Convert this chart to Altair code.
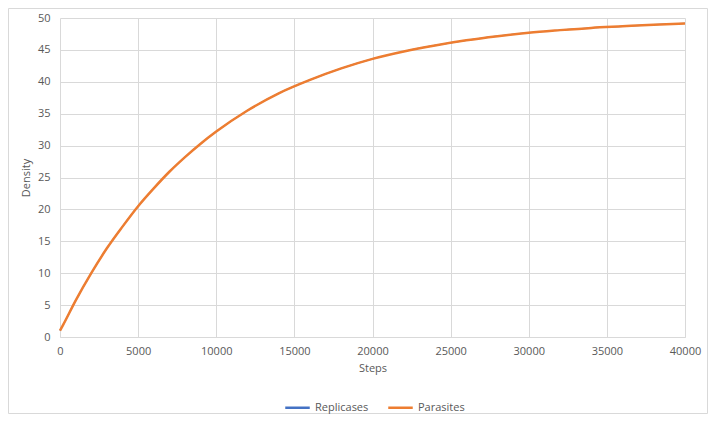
import altair as alt
import pandas as pd

steps = [0, 200, 1000, 2000, 3000, 4000, 5000, 6000, 7000, 8000, 9000, 10000,
         12000, 14000, 16000, 18000, 20000, 22000, 24000, 26000, 28000, 30000,
         32000, 34000, 36000, 38000, 40000]
parasites = [1.0, 1.9, 5.7, 10.0, 13.9, 17.3, 20.5, 23.3, 25.9, 28.2, 30.3, 32.2,
             35.5, 38.2, 40.3, 42.1, 43.6, 44.75, 45.7, 46.5, 47.15, 47.7,
             48.1, 48.45, 48.7, 48.95, 49.15]
replicases = [1.0, 1.9, 5.7, 10.0, 13.9, 17.3, 20.5, 23.3, 25.9, 28.2, 30.3, 32.2,
              35.5, 38.2, 40.3, 42.1, 43.6, 44.75, 45.7, 46.5, 47.15, 47.7,
              48.1, 48.45, 48.7, 48.95, 49.15]
series_names = ["Replicases", "Parasites"]
series_colors = ["#4472C4", "#ED7D31"]

rows = []
for i, s in enumerate(steps):
    rows.append({"Steps": s, "Density": replicases[i], "Series": "Replicases", "order": 0, "w": 1.2})
for i, s in enumerate(steps):
    rows.append({"Steps": s, "Density": parasites[i], "Series": "Parasites", "order": 1, "w": 2.5})
df = pd.DataFrame(rows)

FONT = "Open Sans"
W, H = 625, 319

lines = alt.Chart(df).mark_line(interpolate="monotone").encode(
    x=alt.X("Steps:Q", scale=alt.Scale(domain=[0, 40000], nice=False),
            axis=alt.Axis(values=list(range(0, 40001, 5000)), title="Steps", format="d",
                          grid=True, gridColor="#d9d9d9", ticks=False,
                          domainColor="#d9d9d9", labelPadding=8,
                          titlePadding=6, labelFlush=False)),
    y=alt.Y("Density:Q", scale=alt.Scale(domain=[0, 50], nice=False),
            axis=alt.Axis(values=list(range(0, 51, 5)), title="Density", format="d",
                          grid=True, gridColor="#d9d9d9", ticks=False,
                          domain=False, labelPadding=10, titlePadding=6)),
    color=alt.Color("Series:N", scale=alt.Scale(domain=series_names, range=series_colors),
                    legend=alt.Legend(title=None, orient="none", direction="horizontal",
                                      legendX=224, legendY=376, symbolType="stroke",
                                      symbolSize=600, symbolStrokeWidth=2.5,
                                      columnPadding=14, labelFontSize=11,
                                      labelColor="#595959", labelFont=FONT)),
    strokeWidth=alt.StrokeWidth("w:Q", scale=None, legend=None),
    order=alt.Order("order:Q"),
    detail="Series:N",
)

frame = alt.Chart(pd.DataFrame({"a": [0]})).mark_rect(
    filled=False, stroke="#d9d9d9", strokeWidth=1
).encode(
    x=alt.value(-51.5), x2=alt.value(W + 22.5),
    y=alt.value(-9.5), y2=alt.value(H + 76.5),
)

chart = alt.layer(frame, lines).properties(
    width=W, height=H,
    padding={"left": 52, "top": 10, "right": 24, "bottom": 77},
    autosize=alt.AutoSizeParams(type="none"),
).configure_view(stroke=None).configure_axis(
    labelFont=FONT, titleFont=FONT, labelFontSize=11, titleFontSize=11,
    labelColor="#595959", titleColor="#595959", titleFontWeight="normal",
)

chart.save("out.html", embed_options={"renderer": "svg", "actions": False})
